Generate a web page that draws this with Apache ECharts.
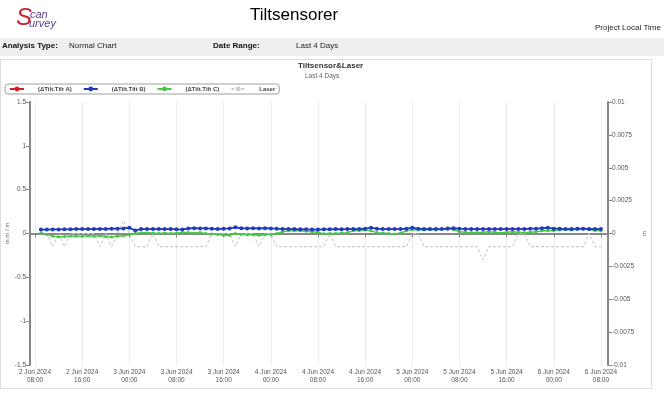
<!DOCTYPE html>
<html><head><meta charset="utf-8">
<script src="https://cdn.jsdelivr.net/npm/echarts@6/dist/echarts.min.js"></script>
<style>html,body{margin:0;padding:0;background:#fff;}#c{width:664px;height:393px;}</style>
</head><body><div id="c"></div>
<script>
// hours since 2 Jun 2024 00:00, hourly readings 2 Jun 09:00 .. 6 Jun 08:00
const startHour = 9;
const tickHours = [8,16,24,32,40,48,56,64,72,80,88,96,104];
const leftTicks = [-1.5,-1,-0.5,0,0.5,1,1.5];
const rightTicks = [-0.01,-0.0075,-0.005,-0.0025,0,0.0025,0.005,0.0075,0.01];

const tiltA = [0.045,0.045,0.046,0.046,0.048,0.048,0.05,0.05,0.05,0.05,0.052,0.052,0.055,0.055,0.058,0.065,0.035,0.05,0.05,0.05,0.05,0.05,0.05,0.048,0.045,0.058,0.06,0.058,0.058,0.055,0.05,0.055,0.058,0.07,0.06,0.058,0.06,0.058,0.06,0.058,0.055,0.05,0.05,0.05,0.048,0.048,0.045,0.045,0.048,0.048,0.05,0.048,0.05,0.05,0.05,0.055,0.065,0.055,0.05,0.05,0.05,0.05,0.055,0.065,0.055,0.05,0.05,0.05,0.05,0.055,0.06,0.055,0.052,0.05,0.05,0.05,0.05,0.05,0.05,0.05,0.05,0.05,0.05,0.055,0.055,0.06,0.065,0.055,0.055,0.05,0.05,0.055,0.055,0.05,0.05,0.05];
const tiltB = [0.045,0.045,0.046,0.046,0.048,0.048,0.05,0.05,0.05,0.05,0.052,0.052,0.055,0.055,0.058,0.065,0.035,0.05,0.05,0.05,0.05,0.05,0.05,0.048,0.045,0.058,0.06,0.058,0.058,0.055,0.05,0.055,0.058,0.07,0.06,0.058,0.06,0.058,0.06,0.058,0.055,0.05,0.05,0.05,0.048,0.048,0.045,0.045,0.048,0.048,0.05,0.048,0.05,0.05,0.05,0.055,0.065,0.055,0.05,0.05,0.05,0.05,0.055,0.065,0.055,0.05,0.05,0.05,0.05,0.055,0.06,0.055,0.052,0.05,0.05,0.05,0.05,0.05,0.05,0.05,0.05,0.05,0.05,0.055,0.055,0.06,0.065,0.055,0.055,0.05,0.05,0.055,0.055,0.05,0.05,0.05];
const tiltC = [0.008,-0.01,-0.03,-0.04,-0.035,-0.03,-0.03,-0.03,-0.025,-0.03,-0.025,-0.035,-0.04,-0.03,-0.025,-0.015,0.0,0.008,0.008,0.005,0.0,0.005,0.0,0.005,0.01,0.01,0.005,0.01,0.0,-0.005,-0.01,-0.02,-0.02,0.0,-0.01,-0.015,-0.015,-0.02,-0.015,-0.01,0.0,0.02,0.03,0.035,0.03,0.025,0.02,0.015,-0.004,0.0,0.0,0.005,0.01,0.03,0.035,0.04,0.03,0.01,0.005,0.0,-0.005,0.005,0.03,0.045,0.04,0.04,0.045,0.04,0.05,0.065,0.045,0.02,0.015,0.01,0.01,0.015,0.02,0.015,0.005,0.015,0.02,0.015,0.01,0.015,0.02,0.03,0.03,0.035,0.04,0.045,0.04,0.045,0.05,0.045,0.035,0.03];
const laser = [0,0,-0.001,0,-0.001,0,0,0,0,0,-0.001,0,-0.001,0,0.001,0,-0.001,-0.001,-0.001,0,-0.001,-0.001,-0.001,-0.001,-0.001,-0.001,-0.001,-0.001,-0.001,0,0,0,0,-0.001,0,0,0,-0.001,0,0,-0.001,-0.001,-0.001,-0.001,-0.001,-0.001,-0.001,-0.001,-0.001,0,-0.001,-0.001,-0.001,-0.001,-0.001,-0.001,-0.001,-0.001,-0.001,-0.001,-0.001,-0.001,-0.001,0,0,-0.001,-0.001,-0.001,-0.001,-0.001,-0.001,-0.001,-0.001,-0.001,-0.001,-0.002,-0.001,-0.001,-0.001,-0.001,-0.001,0,0,-0.001,-0.001,-0.001,-0.001,-0.001,-0.001,-0.001,-0.001,-0.001,-0.001,0,-0.001,-0.001];

function pairs(arr){ return arr.map((v,i)=>[startHour+i, v]); }
function fmtHour(h){ const d = 2 + Math.floor(h/24); const hh = h%24; return d + ' Jun 2024\n' + (hh<10?'0':'') + hh + ':00'; }

const FONT = 'Liberation Sans';
const chart = echarts.init(document.getElementById('c'), null, {renderer:'canvas'});
chart.setOption({
  animation:false,
  backgroundColor:'#fff',
  textStyle:{fontFamily:FONT},
  graphic:[
    {type:'rect', shape:{x:0,y:38,width:664,height:18}, style:{fill:'#efefef'}, silent:true},
    {type:'rect', shape:{x:0.5,y:59.5,width:651,height:329}, style:{fill:'#fff', stroke:'#dcdcdc', lineWidth:1}, silent:true, z:-1},
    {type:'text', left:16, top:6, style:{text:'S', font:'italic 24px '+FONT, fill:'#c8202f'}},
    {type:'text', left:30, top:9, style:{text:'can', font:'italic 11px '+FONT, fill:'#5b3f8f'}},
    {type:'text', left:29, top:18, style:{text:'urvey', font:'italic 11px '+FONT, fill:'#5b3f8f'}},
    {type:'text', left:250, top:7, style:{text:'Tiltsensorer', font:'17px '+FONT, fill:'#000'}},
    {type:'text', left:595, top:24, style:{text:'Project Local Time', font:'8px '+FONT, fill:'#222'}},
    {type:'text', left:2, top:42, style:{text:'Analysis Type:', font:'bold 8px '+FONT, fill:'#111'}},
    {type:'text', left:69, top:42, style:{text:'Normal Chart', font:'8px '+FONT, fill:'#222'}},
    {type:'text', left:213, top:42, style:{text:'Date Range:', font:'bold 8px '+FONT, fill:'#111'}},
    {type:'text', left:296, top:42, style:{text:'Last 4 Days', font:'8px '+FONT, fill:'#222'}}
  ],
  title:[
    {text:'Tiltsensor&Laser', left:298, top:62, padding:0, textStyle:{fontSize:8, fontWeight:'bold', color:'#333', fontFamily:FONT}},
    {text:'Last 4 Days', left:305, top:73, padding:0, textStyle:{fontSize:6.5, fontWeight:'normal', color:'#666', fontFamily:FONT}}
  ],
  legend:{
    left:5, top:84, padding:[2,4,2,4], itemGap:11, itemWidth:14, itemHeight:6,
    borderColor:'#a0a0a0', borderWidth:1, borderRadius:3,
    textStyle:{fontSize:6, fontWeight:'bold', color:'#444', padding:[0,0,0,9], width:38, fontFamily:FONT},
    data:['(ΔTilt.Tilt A)','(ΔTilt.Tilt B)','(ΔTilt.Tilt C)','Laser']
  },
  grid:{left:30, right:56, top:102, bottom:28, outerBoundsMode:'none', containLabel:false},
  xAxis:{
    type:'value', min:7.15, max:105.2,
    axisLine:{lineStyle:{color:'#888', width:2}},
    axisTick:{customValues:tickHours, length:4, lineStyle:{color:'#888'}},
    axisLabel:{customValues:tickHours, formatter:fmtHour, fontSize:6.5, color:'#555', lineHeight:8, margin:3, fontFamily:FONT},
    splitLine:{show:true, lineStyle:{color:'#ececec', width:1}}
  },
  yAxis:[
    {type:'value', min:-1.5, max:1.5, interval:0.5, name:'m m / m', nameLocation:'middle', nameGap:20, nameRotate:90, nameMoveOverlap:false,
     nameTextStyle:{fontSize:6, color:'#666', fontFamily:FONT},
     axisLine:{show:true, lineStyle:{color:'#888', width:2}},
     axisTick:{show:true, length:4, lineStyle:{color:'#888'}},
     axisLabel:{fontSize:6.5, color:'#555', margin:4, fontFamily:FONT},
     splitLine:{show:false}},
    {type:'value', min:-0.01, max:0.01, interval:0.0025, position:'right', name:'m', nameLocation:'middle', nameGap:33, nameRotate:90, nameMoveOverlap:false,
     nameTextStyle:{fontSize:6, color:'#666', fontFamily:FONT},
     axisLine:{show:true, lineStyle:{color:'#888', width:2}},
     axisTick:{show:true, length:4, lineStyle:{color:'#888'}},
     axisLabel:{fontSize:6.5, color:'#555', margin:4, fontFamily:FONT},
     splitLine:{show:false}}
  ],
  series:[
    {name:'(ΔTilt.Tilt A)', type:'line', yAxisIndex:0, data:pairs(tiltA), color:'#d0202a', symbol:'circle', symbolSize:2.5, lineStyle:{width:1}, z:3},
    {name:'(ΔTilt.Tilt B)', type:'line', yAxisIndex:0, data:pairs(tiltB), color:'#1f3cc0', symbol:'circle', symbolSize:4, lineStyle:{width:1.8}, z:5},
    {name:'(ΔTilt.Tilt C)', type:'line', yAxisIndex:0, data:pairs(tiltC), color:'#45c845', symbol:'circle', symbolSize:3, lineStyle:{width:1.5}, z:4},
    {name:'Laser', type:'line', yAxisIndex:1, data:pairs(laser), color:'#cccccc', symbol:'none', lineStyle:{width:1.1, type:[3,2]}, z:2}
  ]
});
</script></body></html>
